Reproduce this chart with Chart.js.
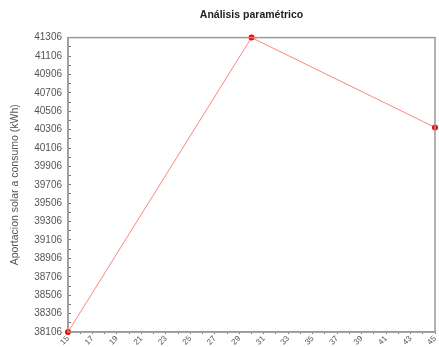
<!DOCTYPE html>
<html>
<head>
<meta charset="utf-8">
<script src="https://cdn.jsdelivr.net/npm/chart.js@4"></script>
<style>
    html, body { margin: 0; padding: 0; background: #fff; }
    #wrap { width: 439px; height: 347px; }
</style>
</head>
<body>
<div id="wrap"><canvas id="paramChart"></canvas></div>
<script>
// Parameter values (x) and solar contribution (y)
const paramValues = [15, 30, 45];
const solarValues = [38106, 41306, 40330];

// Tick labels
const xTickLabels = [15, 17, 19, 21, 23, 25, 27, 29, 31, 33, 35, 37, 39, 41, 43, 45];
const yTickLabels = [38106, 38306, 38506, 38706, 38906, 39106, 39306, 39506, 39706,
    39906, 40106, 40306, 40506, 40706, 40906, 41106, 41306];

// Draws the grey frame around the plot area
const framePlugin = {
    id: 'frame',
    afterDraw(chart) {
        const a = chart.chartArea;
        const ctx = chart.ctx;
        ctx.save();
        ctx.strokeStyle = '#9a9a9a';
        ctx.lineWidth = 1.5;
        ctx.strokeRect(a.left, a.top, a.right - a.left, a.bottom - a.top);
        ctx.restore();
    }
};

// Major ticks plus one minor tick between each pair
function withMinor(labels) {
    const step = (labels[1] - labels[0]) / 2;
    const ticks = [];
    labels.forEach((v, i) => {
        ticks.push({ value: v });
        if (i < labels.length - 1) ticks.push({ value: v + step });
    });
    return ticks;
}

const ctx = document.getElementById('paramChart').getContext('2d');
new Chart(ctx, {
    type: 'line',
    data: {
        datasets: [{
            data: paramValues.map((x, i) => ({ x: x, y: solarValues[i] })),
            borderColor: 'rgba(255, 100, 100, 0.8)',
            borderWidth: 1,
            pointRadius: 3,
            pointBackgroundColor: '#ff0000',
            pointBorderColor: '#ff0000',
            pointBorderWidth: 0,
            clip: false,
            tension: 0
        }]
    },
    options: {
        responsive: true,
        maintainAspectRatio: false,
        animation: false,
        layout: { padding: { left: 0, right: 1, top: 0, bottom: 0 } },
        plugins: {
            legend: { display: false },
            tooltip: { enabled: false },
            title: {
                display: true,
                fullSize: false,
                text: 'Análisis paramétrico',
                color: '#222',
                font: { family: 'Liberation Sans', size: 10.5, weight: 'bold' },
                padding: { top: 9, bottom: 16 }
            }
        },
        scales: {
            x: {
                type: 'linear',
                min: 15,
                max: 45,
                afterBuildTicks: scale => { scale.ticks = withMinor(xTickLabels); },
                afterFit: scale => {
                    scale.height = 15;
                    scale.paddingLeft = 0;
                    scale.paddingRight = 0;
                },
                border: { display: true, color: '#9a9a9a', width: 1.5 },
                grid: { drawOnChartArea: false, tickLength: 2, color: '#777' },
                ticks: {
                    autoSkip: false,
                    minRotation: 45,
                    maxRotation: 45,
                    padding: 0,
                    color: '#555',
                    font: { family: 'Liberation Sans', size: 8 },
                    callback: v => xTickLabels.includes(v) ? String(v) : ''
                }
            },
            y: {
                type: 'linear',
                min: 38106,
                max: 41306,
                afterBuildTicks: scale => { scale.ticks = withMinor(yTickLabels); },
                afterFit: scale => {
                    scale.width = 68;
                    scale.paddingTop = 0;
                    scale.paddingBottom = 0;
                },
                border: { display: true, color: '#9a9a9a', width: 1.5 },
                grid: { drawOnChartArea: false, tickLength: -3, color: '#777' },
                title: {
                    display: true,
                    text: 'Aportacion solar a consumo (kWh)',
                    color: '#555',
                    font: { family: 'Liberation Sans', size: 10.5 },
                    padding: { top: 9, bottom: 0 }
                },
                ticks: {
                    autoSkip: false,
                    padding: 9,
                    color: '#555',
                    font: { family: 'Liberation Sans', size: 10 },
                    callback: v => yTickLabels.includes(v) ? String(v) : ''
                }
            }
        }
    },
    plugins: [framePlugin]
});
</script>
</body>
</html>
